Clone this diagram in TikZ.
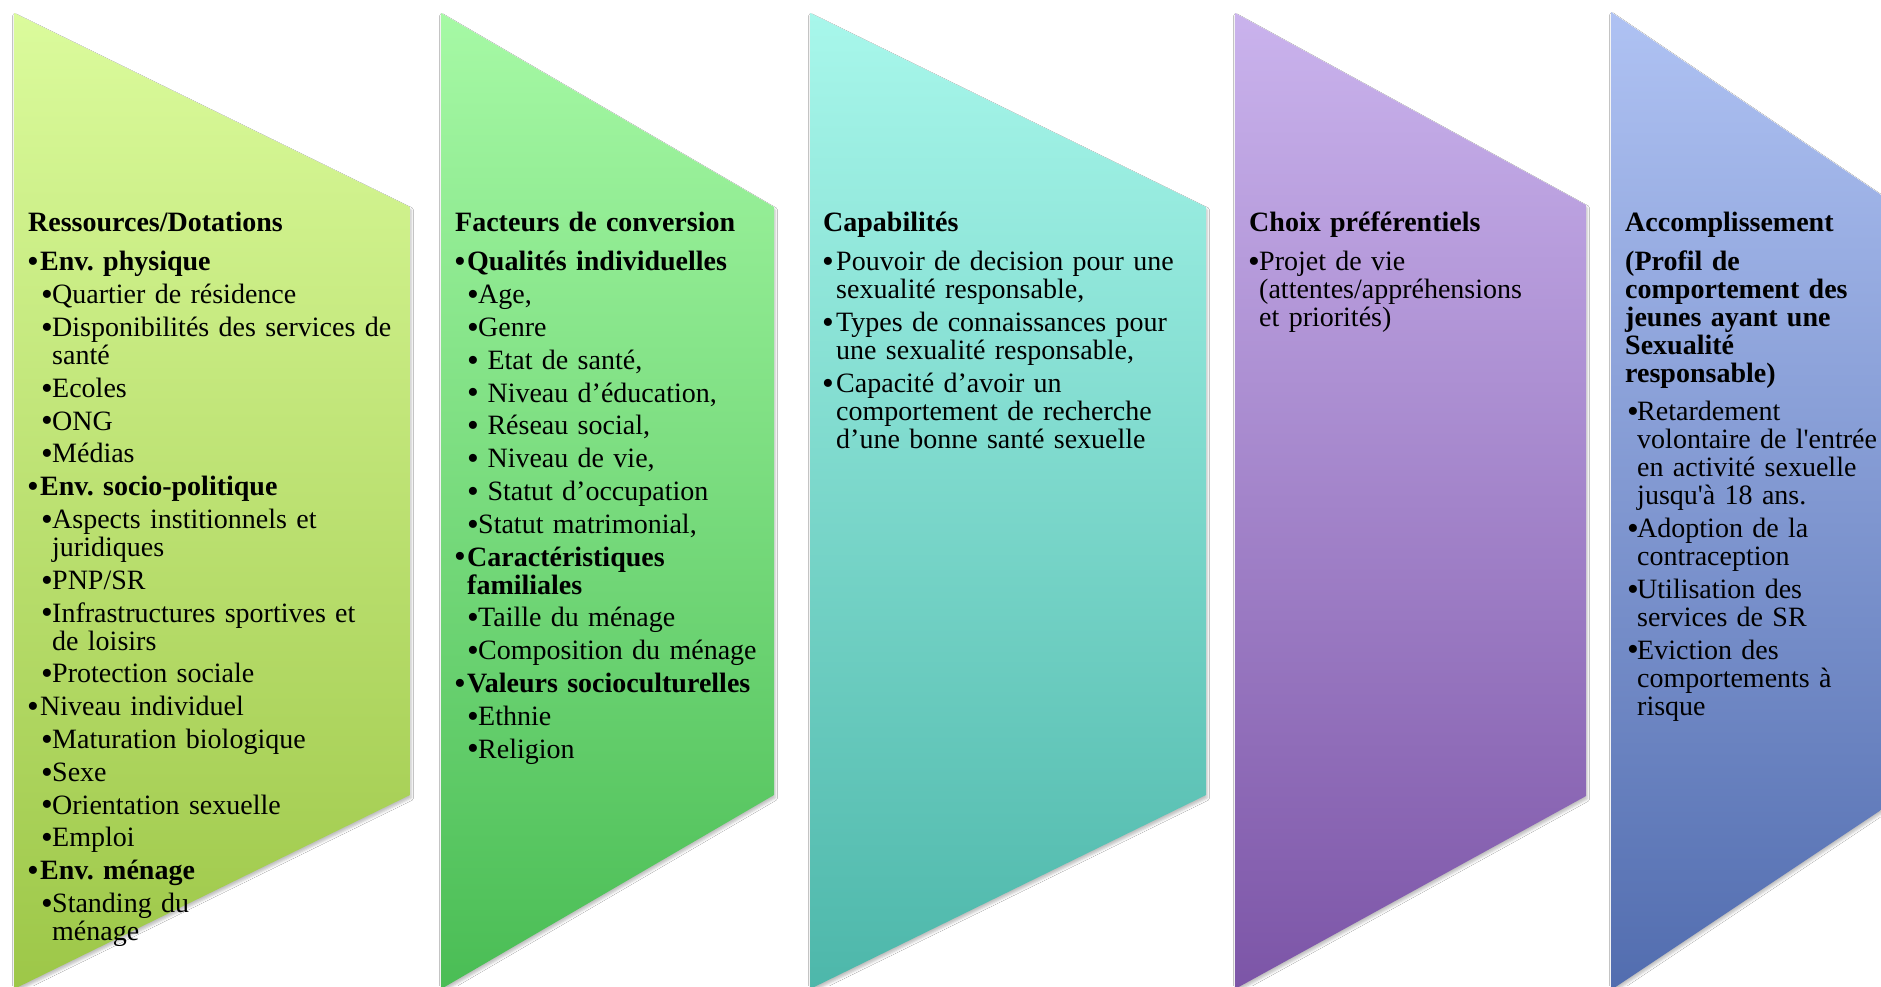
\documentclass[tikz,border=0pt]{standalone}
\usepackage{fontspec}
\usepackage{graphicx}
\setmainfont{Liberation Serif}
\usetikzlibrary{shadows.blur}
\frenchspacing

% panel gradients (top / bottom)
\definecolor{aTop}{HTML}{DBFB9C}\definecolor{aBot}{HTML}{9DC748}
\definecolor{bTop}{HTML}{A6F9A5}\definecolor{bBot}{HTML}{4ABD55}
\definecolor{cTop}{HTML}{A8F7EB}\definecolor{cBot}{HTML}{4DB7AA}
\definecolor{dTop}{HTML}{CAB3ED}\definecolor{dBot}{HTML}{7C55A7}
\definecolor{eTop}{HTML}{AFC2F3}\definecolor{eBot}{HTML}{526DAF}

% bulleted paragraph: #1 indent of the bullet, #2 width of the bullet box
\newcommand\bigbullet{\hspace*{-1pt}\raisebox{-1.8pt}{\scalebox{1.2}{•}}}
\newcommand\bitem[3]{\par\hangindent=\dimexpr#1+#2\relax\hangafter=1
  \noindent\hspace*{#1}\makebox[#2][l]{\bigbullet}{#3}\par}
\newcommand\lvone[1]{\bitem{0pt}{12pt}{#1}}
\newcommand\lvtwo[1]{\bitem{14pt}{10pt}{#1}}
\newcommand\lvtwob[1]{\bitem{13pt}{10pt}{#1}}
\newcommand\paneltitle[1]{{\bfseries #1}\par\vspace{7pt}}

\tikzset{
  panel/.style={blur shadow={shadow xshift=1pt, shadow yshift=-3pt,
      shadow blur radius=2.5pt, shadow opacity=25}},
  paneltext/.style={anchor=base west, inner sep=0pt, text width=600pt,
      align=left, font=\fontsize{28}{28}\selectfont},
}

\begin{document}
\begin{tikzpicture}[x=1pt,y=-1pt]
\useasboundingbox (0,0) rectangle (1881,986);
\fill[white] (0,0) rectangle (1881,986);

\begin{scope}
\clip (0,0) rectangle (1881,986);
% five stage banners, each cut as a slanted tab
\path[panel, top color=aTop, bottom color=aBot]
  (14,13) -- (410,207) -- (410,795) -- (14,989) -- cycle;
\path[panel, top color=bTop, bottom color=bBot]
  (441,13) -- (774,207) -- (774,795) -- (441,989) -- cycle;
\path[panel, top color=cTop, bottom color=cBot]
  (810,13) -- (1206,207) -- (1206,795) -- (810,989) -- cycle;
\path[panel, top color=dTop, bottom color=dBot]
  (1235,13) -- (1586,205) -- (1586,796) -- (1235,989) -- cycle;
\path[panel, top color=eTop, bottom color=eBot]
  (1611,12) -- (1896,205) -- (1896,800) -- (1611,990) -- cycle;
\end{scope}

% Ressources / Dotations
\node[paneltext] (p1) at (28,231) {\setlength\parskip{4.8pt}%
\paneltitle{Ressources/Dotations}
\lvone{\bfseries Env. physique}
\lvtwo{Quartier de résidence}
\lvtwo{Disponibilités des services de\newline santé}
\lvtwo{Ecoles}
\lvtwo{ONG}
\lvtwo{Médias}
\lvone{\bfseries Env. socio-politique}
\lvtwo{Aspects institionnels et\newline juridiques}
\lvtwo{PNP/SR}
\lvtwo{Infrastructures sportives et\newline de loisirs}
\lvtwo{Protection sociale}
\lvone{Niveau individuel}
\lvtwo{Maturation biologique}
\lvtwo{Sexe}
\lvtwo{Orientation sexuelle}
\lvtwo{Emploi}
\lvone{\bfseries Env. ménage}
\lvtwo{Standing du\newline ménage}};

% Facteurs de conversion
\node[paneltext] (p2) at (455,231) {\setlength\parskip{4.8pt}%
\paneltitle{Facteurs de conversion}
\lvone{\bfseries Qualités individuelles}
\lvtwob{Age,}
\lvtwob{Genre}
\lvtwob{\ Etat de santé,}
\lvtwob{\ Niveau d’éducation,}
\lvtwob{\ Réseau social,}
\lvtwob{\ Niveau de vie,}
\lvtwob{\ Statut d’occupation}
\lvtwob{Statut matrimonial,}
\lvone{\bfseries Caractéristiques\newline familiales}
\lvtwob{Taille du ménage}
\lvtwob{Composition du ménage}
\lvone{\bfseries Valeurs socioculturelles}
\lvtwob{Ethnie}
\lvtwob{Religion}};

% Capabilités
\node[paneltext] (p3) at (823,231) {\setlength\parskip{4.8pt}%
\paneltitle{Capabilités}
\bitem{0pt}{13pt}{Pouvoir de decision pour une\newline sexualité responsable,}
\bitem{0pt}{13pt}{Types de connaissances pour\newline une sexualité responsable,}
\bitem{0pt}{13pt}{Capacité d’avoir un\newline comportement de recherche\newline d’une bonne santé sexuelle}};

% Choix préférentiels
\node[paneltext] (p4) at (1249,231) {\setlength\parskip{4.8pt}%
\paneltitle{Choix préférentiels}
\bitem{0pt}{10pt}{Projet de vie\newline (attentes/appréhensions\newline et priorités)}};

% Accomplissement
\node[paneltext] (p5) at (1625,231) {\setlength\parskip{4.8pt}%
\paneltitle{Accomplissement}
{\bfseries (Profil de\newline comportement des\newline jeunes ayant une\newline Sexualité\newline responsable)}\par\vspace{5pt}
\bitem{3pt}{9pt}{Retardement\newline volontaire de l\textquotesingle entrée\newline en activité sexuelle\newline jusqu\textquotesingle à 18 ans.}
\bitem{3pt}{9pt}{Adoption de la\newline contraception}
\bitem{3pt}{9pt}{Utilisation des\newline services de SR}
\bitem{3pt}{9pt}{Eviction des\newline comportements à\newline risque}};
\end{tikzpicture}
\end{document}
